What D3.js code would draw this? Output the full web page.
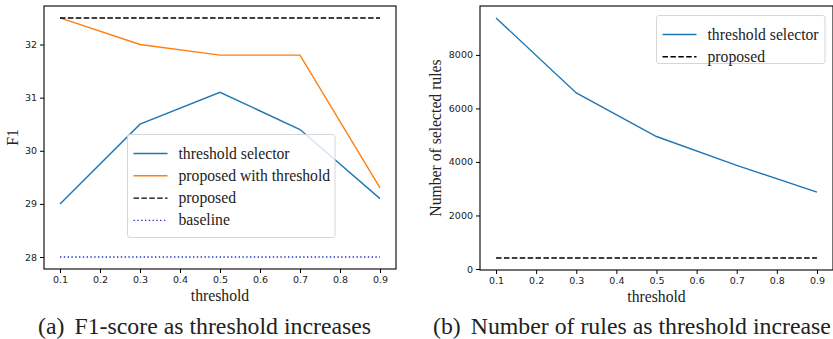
<!DOCTYPE html>
<html>
<head>
<meta charset="utf-8">
<script src="https://cdn.jsdelivr.net/npm/d3@7"></script>
<style>
  body { margin: 0; background: #fff; }
  svg { display: block; }
  .tick text { font-family: "DejaVu Sans", sans-serif; font-size: 9.5px; fill: #222; }
  .serif { font-family: "Liberation Serif", "Times New Roman", serif; fill: #222; }
</style>
</head>
<body>
<div id="chart"></div>
<script>
// data
const thresholds = [0.1, 0.3, 0.5, 0.7, 0.9];
const xTicks = [0.1, 0.2, 0.3, 0.4, 0.5, 0.6, 0.7, 0.8, 0.9];

const f1Selector = [29.0, 30.5, 31.1, 30.4, 29.1];
const f1ProposedThreshold = [32.5, 32.0, 31.8, 31.8, 29.3];
const f1Proposed = [32.5, 32.5, 32.5, 32.5, 32.5];
const f1Baseline = [28.0, 28.0, 28.0, 28.0, 28.0];
const f1Ticks = [28, 29, 30, 31, 32];

const rulesSelector = [9380, 6580, 4950, 3870, 2870];
const rulesProposed = [410, 410, 410, 410, 410];
const rulesTicks = [0, 2000, 4000, 6000, 8000];

const W = 833, H = 339;
const svg = d3.select('#chart').append('svg').attr('width', W).attr('height', H);

// matplotlib-style 5% margin domain
function padded(vals) {
  const [lo, hi] = d3.extent(vals);
  const m = (hi - lo) * 0.05;
  return [lo - m, hi + m];
}

function panel(opts) {
  const { left, right, top, bottom, series, yTicks, yLabel, yLabelX, caption, captionX, legend } = opts;
  const x = d3.scaleLinear().domain(padded(thresholds)).range([left, right]);
  const allY = series.flatMap(s => s.values);
  const y = d3.scaleLinear().domain(padded(allY)).range([bottom, top]);

  const g = svg.append('g');

  const line = d3.line().x((d, i) => x(thresholds[i])).y(d => y(d));
  series.forEach(s => {
    g.append('path')
      .attr('d', line(s.values))
      .attr('fill', 'none')
      .attr('stroke', s.color)
      .attr('stroke-width', s.width || 1.4)
      .attr('stroke-dasharray', s.dash || null);
  });

  // axes
  const xa = g.append('g').attr('transform', `translate(0,${bottom})`)
    .call(d3.axisBottom(x).tickValues(xTicks).tickFormat(d3.format('.1f')).tickSizeOuter(0).tickSize(4).tickPadding(3));
  const ya = g.append('g').attr('transform', `translate(${left},0)`)
    .call(d3.axisLeft(y).tickValues(yTicks).tickFormat(d3.format('d')).tickSizeOuter(0).tickSize(4).tickPadding(3));
  [xa, ya].forEach(a => {
    a.select('.domain').remove();
    a.selectAll('.tick line').attr('stroke', '#000').attr('stroke-width', 1);
  });

  // frame
  g.append('rect')
    .attr('x', left).attr('y', top)
    .attr('width', right - left).attr('height', bottom - top)
    .attr('fill', 'none').attr('stroke', '#000').attr('stroke-width', 1.1);

  // labels
  g.append('text').attr('class', 'serif')
    .attr('x', (left + right) / 2).attr('y', bottom + 32)
    .attr('text-anchor', 'middle').attr('font-size', 15.7)
    .text('threshold');

  g.append('text').attr('class', 'serif')
    .attr('transform', `translate(${yLabelX},${(top + bottom) / 2}) rotate(-90)`)
    .attr('text-anchor', 'middle').attr('font-size', 15.7)
    .text(yLabel);

  const cap = g.append('text').attr('class', 'serif')
    .attr('x', captionX).attr('y', 334)
    .attr('font-size', 23.8);
  cap.append('tspan').text(caption[0]);
  cap.append('tspan').attr('dx', 10).text(caption[1]);

  // legend
  const lg = g.append('g');
  lg.append('rect')
    .attr('x', legend.x).attr('y', legend.y)
    .attr('width', legend.w).attr('height', legend.h)
    .attr('rx', 2.5)
    .attr('fill', 'rgba(255,255,255,0.8)')
    .attr('stroke', '#d6d6d6').attr('stroke-width', 1);
  series.forEach((s, i) => {
    const cy = legend.y + 19 + i * 22.3;
    lg.append('line')
      .attr('x1', legend.x + 6).attr('x2', legend.x + 40)
      .attr('y1', cy).attr('y2', cy)
      .attr('stroke', s.color)
      .attr('stroke-width', s.width || 1.4)
      .attr('stroke-dasharray', s.dash || null);
    lg.append('text').attr('class', 'serif')
      .attr('x', legend.x + 51).attr('y', cy + 5)
      .attr('font-size', 15.7)
      .text(s.name);
  });
}

panel({
  left: 44, right: 396, top: 6, bottom: 269,
  series: [
    { name: 'threshold selector', values: f1Selector, color: '#1f77b4' },
    { name: 'proposed with threshold', values: f1ProposedThreshold, color: '#ff7f0e' },
    { name: 'proposed', values: f1Proposed, color: '#000', dash: '5.5,2.4' },
    { name: 'baseline', values: f1Baseline, color: '#2233cc', dash: '1.4,2.4' }
  ],
  yTicks: f1Ticks,
  yLabel: 'F1',
  yLabelX: 18,
  caption: ['(a)', 'F1-score as threshold increases'],
  captionX: 38,
  legend: { x: 127.5, y: 134.5, w: 207.5, h: 103 }
});

panel({
  left: 480, right: 833, top: 6, bottom: 270,
  series: [
    { name: 'threshold selector', values: rulesSelector, color: '#1f77b4' },
    { name: 'proposed', values: rulesProposed, color: '#000', dash: '5.5,2.4' }
  ],
  yTicks: rulesTicks,
  yLabel: 'Number of selected rules',
  yLabelX: 441,
  caption: ['(b)', 'Number of rules as threshold increase'],
  captionX: 433,
  legend: { x: 656.5, y: 15.5, w: 168.5, h: 48 }
});
</script>
</body>
</html>
